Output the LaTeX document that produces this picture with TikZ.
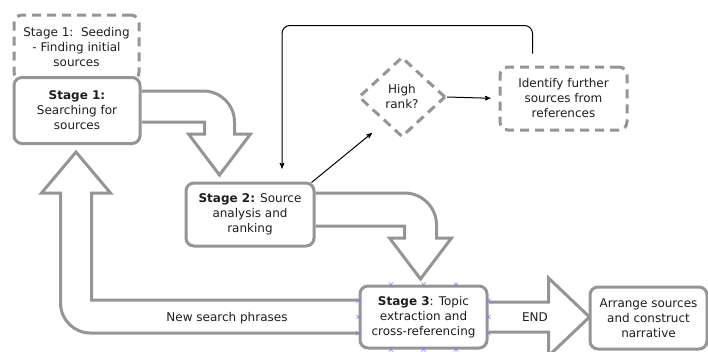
\documentclass[tikz,border=0pt]{standalone}
\usepackage{fontspec}
\setmainfont{DejaVu Sans}
\usepackage{tikz}
\usetikzlibrary{arrows,shapes.geometric,shapes.misc,calc,backgrounds}

\definecolor{boxgray}{HTML}{959595}
\definecolor{inkgray}{HTML}{1E1E1E}
\definecolor{markblue}{HTML}{7B7BFF}

\begin{document}
\begin{tikzpicture}[x=1pt,y=-1pt,>=stealth',
                    font=\fontsize{12}{15}\selectfont,text=inkgray,
                    stagebox/.style={draw=boxgray,line width=3pt,rounded corners=8pt,
                                     fill=white,align=center,inner sep=0pt},
                    dashbox/.style={stagebox,dash pattern=on 9pt off 6pt},
                    blockarr/.style={draw=boxgray,line width=3pt,fill=white,line join=miter},
                    flowline/.style={->,line width=1pt,black}]
          \tikzstyle{xmark}=[cross out,draw=markblue,line width=0.6pt,
                             minimum size=3.5pt,inner sep=0pt]
          \useasboundingbox (0,0) rectangle (708,351);

          \node[dashbox,minimum width=125,minimum height=65] (seed) at (76.5,47.5)
               {Stage 1:\ \ Seeding\\- Finding initial\\sources};
          \node[stagebox,minimum width=126,minimum height=66] (s1) at (77,110.5)
               {\textbf{Stage 1:}\\Searching for\\sources};
          \node[stagebox,minimum width=128,minimum height=63] (s2) at (250,214.5)
               {\textbf{Stage 2:} Source\\analysis and\\ranking};
          \node[stagebox,minimum width=127,minimum height=62] (s3) at (423.5,317)
               {\textbf{Stage 3}: Topic\\extraction and\\cross-referencing};
          \node[stagebox,minimum width=117,minimum height=62] (arr) at (648.5,318)
               {Arrange sources\\and construct\\narrative};
          \node[diamond,draw=boxgray,line width=3pt,dash pattern=on 9pt off 6pt,
                align=center,inner sep=0pt,minimum width=87,minimum height=80]
               (rank) at (402,97) {High\\rank?};
          \node[dashbox,minimum width=127,minimum height=63] (id) at (563.5,98.5)
               {Identify further\\sources from\\references};

          % block arrows between the stages
          \begin{scope}[on background layer]
            \path[blockarr] ($(s1.east)+(0,-19.5)$) -- ++(62,0)
                  .. controls +(17,0) and +(0,-17) .. ++(31,31)
                  -- ++(0,12) -- ++(16,0) -- ++(-31,41) -- ++(-31,-41)
                  -- ++(16,0) -- ++(0,-12) -- ++(-63,0);
            \path[blockarr] ($(s2.east)+(0,-21.5)$) -- ++(89,0)
                  .. controls +(17.7,0) and +(0,-17.7) .. ++(32,32)
                  -- ++(0,13) -- ++(15,0) -- ++(-31,41) -- ++(-31,-41)
                  -- ++(15,0) -- ++(0,-12) -- ++(-89,0);
            \path[blockarr] ($(s3.west)+(0,16)$) -- ++(-268,0)
                  .. controls +(-16.6,0) and +(0,16.6) .. ++(-30,-30)
                  -- ++(0,-110) -- ++(-19,0) -- ++(34.5,-41) -- ++(34.5,41)
                  -- ++(-19,0) -- ++(0,107) -- ++(267,0);
            \path[blockarr] ($(s3.east)+(0,-15)$) -- ++(60,0) -- ++(0,-24)
                  -- ++(41,39) -- ++(-41,39) -- ++(0,-24) -- ++(-60,0);
          \end{scope}

          \node (newsp) at (227,318) {New search phrases};
          \node (endlbl) at (535,317) {END};

          % thin connectors
          \coordinate (rankin) at (372,133);
          \draw[flowline] ([xshift=-4pt,yshift=-1pt]s2.north east) -- (rankin);
          \draw[flowline,shorten >=8pt] (rank.east) -- (id.west);
          \draw[flowline,rounded corners=8pt] ([xshift=-31pt,yshift=12pt]id.north)
                -- ++(0,-28) -| ([xshift=32pt,yshift=13pt]s2.north);

          % connection marks on stage 3
          \foreach \f in {0.25,0.5,0.75}
            \foreach \a/\b in {north west/north east,south west/south east,
                               north west/south west,north east/south east}
              \node[xmark] at ($(s3.\a)!\f!(s3.\b)$) {};

        \end{tikzpicture}
\end{document}
